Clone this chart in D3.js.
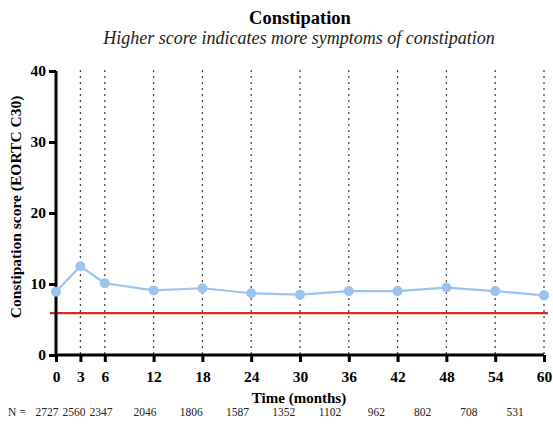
<!DOCTYPE html>
<html>
<head>
<meta charset="utf-8">
<script src="https://cdn.jsdelivr.net/npm/d3@7"></script>
</head>
<body style="margin:0; background:#fff">
<svg id="container" width="553" height="434"></svg>
<script>
  // data
  const months = [0, 3, 6, 12, 18, 24, 30, 36, 42, 48, 54, 60];
  const scores = [8.9, 12.5, 10.1, 9.1, 9.4, 8.7, 8.5, 9.0, 9.0, 9.5, 9.0, 8.4];
  const counts = [2727, 2560, 2347, 2046, 1806, 1587, 1352, 1102, 962, 802, 708, 531];
  const yTicks = [0, 10, 20, 30, 40];
  const reference = 5.9;

  const FONT = '"Liberation Serif"';

  const svg = d3.select('#container');
  const margin = { left: 56, right: 9, top: 71, bottom: 79 };
  const width = +svg.attr('width');
  const height = +svg.attr('height');

  const x = d3.scaleLinear().domain([0, 60]).range([margin.left, width - margin.right]);
  const y = d3.scaleLinear().domain([0, 40]).range([height - margin.bottom, margin.top]);
  // the N row under the axis doesn't line up with the ticks, it is squeezed to the left
  const xN = d3.scaleLinear().domain([0, 6, 12, 60]).range([47, 101, 145, 515]);

  // dotted verticals at each visit
  svg.append('g')
    .selectAll('line')
    .data(months.filter(m => m > 0))
    .enter()
    .append('line')
    .attr('x1', d => x(d)).attr('x2', d => x(d))
    .attr('y1', y(40)).attr('y2', y(0))
    .attr('stroke', '#000')
    .attr('stroke-width', 1.6)
    .attr('stroke-linecap', 'round')
    .attr('stroke-dasharray', '0.1,5.9');

  // reference line
  svg.append('line')
    .attr('x1', x(0) - 6).attr('x2', x(60) + 4)
    .attr('y1', y(reference)).attr('y2', y(reference))
    .attr('stroke', '#d42a2a')
    .attr('stroke-width', 2.2);

  // axes
  const xAxis = svg.append('g')
    .attr('transform', `translate(0,${y(0)})`)
    .call(d3.axisBottom(x).tickValues(months).tickSize(7).tickPadding(9));
  const yAxis = svg.append('g')
    .attr('transform', `translate(${x(0)},0)`)
    .call(d3.axisLeft(y).tickValues(yTicks).tickSize(7).tickPadding(3));

  [xAxis, yAxis].forEach(g => {
    g.attr('font-family', null).attr('font-size', null);
    g.select('.domain').attr('stroke', '#000').attr('stroke-width', 3);
    g.selectAll('.tick line').attr('stroke', '#000').attr('stroke-width', 3);
    g.selectAll('.tick text')
      .attr('fill', '#000')
      .style('font-family', FONT)
      .style('font-size', '15.5px')
      .style('font-weight', 'bold');
  });
  xAxis.select('.domain').attr('d', `M${x(0)},0H${x(60)}`);
  yAxis.select('.domain').attr('d', `M0,${y(40)}V${y(0)}`);

  // series
  const line = d3.line().x((d, i) => x(months[i])).y(d => y(d));
  svg.append('path')
    .datum(scores)
    .attr('fill', 'none')
    .attr('stroke', '#9cc4f0')
    .attr('stroke-width', 2.2)
    .attr('d', line);

  svg.append('g')
    .selectAll('circle')
    .data(scores)
    .enter()
    .append('circle')
    .attr('cx', (d, i) => x(months[i]))
    .attr('cy', d => y(d))
    .attr('r', 5)
    .attr('fill', '#9cc4f0');

  // titles
  svg.append('text')
    .attr('x', 300).attr('y', 24)
    .attr('text-anchor', 'middle')
    .style('font-family', FONT)
    .style('font-size', '18.5px')
    .style('font-weight', 'bold')
    .text('Constipation');

  svg.append('text')
    .attr('x', 299).attr('y', 44)
    .attr('text-anchor', 'middle')
    .style('font-family', FONT)
    .style('font-size', '18px')
    .style('font-style', 'italic')
    .attr('fill', '#222')
    .text('Higher score indicates more symptoms of constipation');

  svg.append('text')
    .attr('x', 299).attr('y', 403)
    .attr('text-anchor', 'middle')
    .style('font-family', FONT)
    .style('font-size', '15px')
    .style('font-weight', 'bold')
    .text('Time (months)');

  svg.append('text')
    .attr('transform', 'translate(21,207) rotate(-90)')
    .attr('text-anchor', 'middle')
    .style('font-family', FONT)
    .style('font-size', '15.5px')
    .style('font-weight', 'bold')
    .text('Constipation score (EORTC C30)');

  // N at risk row
  svg.append('text')
    .attr('x', 8).attr('y', 416)
    .style('font-family', FONT)
    .style('font-size', '11.5px')
    .attr('fill', '#222')
    .text('N =');

  svg.append('g')
    .selectAll('text')
    .data(counts)
    .enter()
    .append('text')
    .attr('x', (d, i) => xN(months[i]))
    .attr('y', 416)
    .attr('text-anchor', 'middle')
    .style('font-family', FONT)
    .style('font-size', '11.5px')
    .attr('fill', '#222')
    .text(d => d);
</script>
</body>
</html>
